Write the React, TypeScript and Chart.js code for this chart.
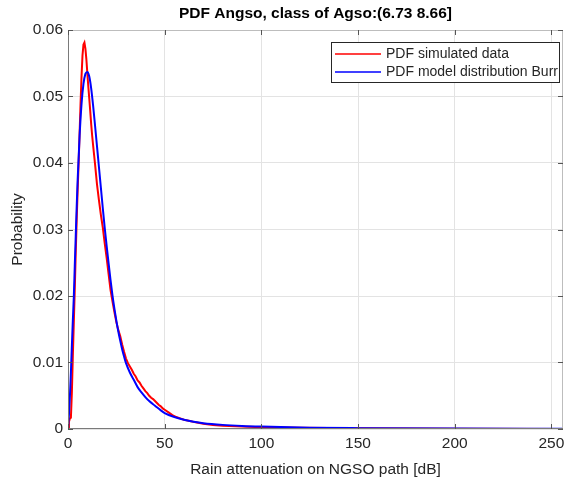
import React, { useEffect, useRef } from "react";
import { Chart, registerables } from "chart.js";

Chart.register(...registerables);

const titleText = "PDF Angso, class of Agso:(6.73 8.66]";
const xLabel = "Rain attenuation on NGSO path [dB]";
const yLabel = "Probability";
const simLabel = "PDF simulated data";
const burrLabel = "PDF model distribution Burr";

const simX = [0, 0.5, 1, 1.5, 2, 2.5, 3, 3.5, 4, 4.5, 5, 5.5, 6, 6.5, 7, 7.5, 8, 8.5, 9, 9.5, 10, 10.5, 11, 11.5, 12, 12.5, 13, 13.5, 14, 15, 16, 17, 18, 19, 20, 21, 22, 23, 24, 25, 26, 27, 28, 29, 30, 31, 32, 33, 34, 35, 36, 37, 38, 39, 40, 41, 42, 43, 44, 45, 46, 47, 48, 49, 50, 52, 54, 56, 58, 60, 63, 66, 70, 75, 80, 90, 100, 120, 150, 200, 256];
const simY = [0, 0.0011, 0.0016, 0.0017, 0.0055, 0.011, 0.016, 0.021, 0.0265, 0.0315, 0.036, 0.04, 0.0445, 0.049, 0.053, 0.0562, 0.0578, 0.0581, 0.0572, 0.0556, 0.0535, 0.0515, 0.0497, 0.0478, 0.0458, 0.0441, 0.0426, 0.0412, 0.0398, 0.0368, 0.0344, 0.0322, 0.0303, 0.0279, 0.0257, 0.0233, 0.0209, 0.0192, 0.0176, 0.0161, 0.0149, 0.014, 0.0127, 0.0116, 0.0106, 0.0099, 0.0094, 0.0089, 0.0083, 0.0079, 0.0073, 0.0070, 0.0065, 0.0061, 0.0057, 0.0054, 0.005, 0.0047, 0.0045, 0.0042, 0.0039, 0.0036, 0.0034, 0.0031, 0.0029, 0.0025, 0.0021, 0.0018, 0.0016, 0.0014, 0.0012, 0.001, 0.0008, 0.0006, 0.00048, 0.00036, 0.00028, 0.00017, 0.0001, 0.00004, 0.00001];

const burrX = [0, 0.5, 1, 1.5, 2, 2.5, 3, 3.5, 4, 4.5, 5, 6, 7, 8, 9, 10, 11, 12, 13, 14, 15, 16, 17, 18, 19, 20, 21, 22, 23, 24, 25, 26, 27, 28, 29, 30, 32, 34, 36, 38, 40, 42, 45, 48, 50, 55, 60, 65, 70, 80, 90, 100, 125, 150, 200, 256];
const burrY = [0, 0.0022, 0.005, 0.0085, 0.0125, 0.0163, 0.0198, 0.0245, 0.029, 0.0335, 0.0375, 0.0441, 0.0489, 0.0519, 0.0534, 0.0537, 0.053, 0.0512, 0.0486, 0.0456, 0.0425, 0.0394, 0.0363, 0.0332, 0.0302, 0.0275, 0.0249, 0.0224, 0.0201, 0.0181, 0.0163, 0.0147, 0.0133, 0.012, 0.0109, 0.0099, 0.0085, 0.0074, 0.0063, 0.0055, 0.0048, 0.0042, 0.0035, 0.0028, 0.0024, 0.0018, 0.0014, 0.0011, 0.00088, 0.00062, 0.00046, 0.00036, 0.0002, 0.00013, 0.00006, 0.00003];

const FONT = "'Liberation Sans', Arial, Helvetica, sans-serif";
const TEXT = "#262626";

const boxPlugin = {
  id: "matlabBox",
  afterDatasetsDraw(chart: any) {
    const { ctx, chartArea: a, scales } = chart;
    ctx.save();
    ctx.lineWidth = 1;
    ctx.strokeStyle = "#bdbdbd";
    ctx.beginPath();
    ctx.moveTo(a.left, a.top + 0.5);
    ctx.lineTo(a.right - 0.5, a.top + 0.5);
    ctx.lineTo(a.right - 0.5, a.bottom);
    ctx.stroke();
    ctx.strokeStyle = "#7a7a7a";
    ctx.beginPath();
    ctx.moveTo(a.left + 0.5, a.top);
    ctx.lineTo(a.left + 0.5, a.bottom - 0.5);
    ctx.lineTo(a.right, a.bottom - 0.5);
    ctx.stroke();
    const len = 5;
    ctx.strokeStyle = "#555555";
    ctx.beginPath();
    scales.x.ticks.forEach((t: any) => {
      const px = Math.round(scales.x.getPixelForValue(t.value)) + 0.5;
      ctx.moveTo(px, a.bottom);
      ctx.lineTo(px, a.bottom - len);
      ctx.moveTo(px, a.top);
      ctx.lineTo(px, a.top + len);
    });
    scales.y.ticks.forEach((t: any) => {
      const py = Math.round(scales.y.getPixelForValue(t.value)) + 0.5;
      ctx.moveTo(a.left, py);
      ctx.lineTo(a.left + len, py);
      ctx.moveTo(a.right, py);
      ctx.lineTo(a.right - len, py);
    });
    ctx.stroke();

    const ds = chart.data.datasets;
    const w = 228;
    const h = 40;
    const left = a.right - 4 - w;
    const top = a.top + 12;
    ctx.fillStyle = "#ffffff";
    ctx.fillRect(left, top, w, h);
    ctx.strokeStyle = "#262626";
    ctx.lineWidth = 1;
    ctx.strokeRect(left + 0.5, top + 0.5, w, h);
    ctx.font = `14px ${FONT}`;
    ctx.textBaseline = "middle";
    ctx.textAlign = "left";
    ds.forEach((d: any, i: number) => {
      const y = top + 12 + i * 18;
      ctx.strokeStyle = d.borderColor;
      ctx.lineWidth = 1.5;
      ctx.beginPath();
      ctx.moveTo(left + 4, y);
      ctx.lineTo(left + 50, y);
      ctx.stroke();
      ctx.fillStyle = TEXT;
      ctx.fillText(d.label, left + 55, y);
    });
    ctx.restore();
  },
};

export default function App() {
  const ref = useRef<HTMLCanvasElement | null>(null);
  useEffect(() => {
    if (!ref.current) return;
    const chart = new Chart(ref.current, {
      type: "line",
      data: {
        datasets: [
          {
            label: simLabel,
            data: simX.map((x, i) => ({ x, y: simY[i] })),
            borderColor: "#ff0000",
            borderWidth: 2,
            pointRadius: 0,
            tension: 0,
            order: 2,
          },
          {
            label: burrLabel,
            data: burrX.map((x, i) => ({ x, y: burrY[i] })),
            borderColor: "#0000ff",
            borderWidth: 2,
            pointRadius: 0,
            cubicInterpolationMode: "monotone",
            order: 1,
          },
        ],
      },
      options: {
        animation: false,
        responsive: false,
        layout: { padding: { left: 0, right: 14, top: 0, bottom: 0 } },
        plugins: {
          legend: { display: false },
          tooltip: { enabled: false },
          title: {
            display: true,
            fullSize: false,
            text: titleText,
            color: "#000000",
            font: { family: FONT, size: 15.5, weight: "bold" },
            padding: { top: 4, bottom: 7.4 },
          },
        },
        scales: {
          x: {
            type: "linear",
            min: 0,
            max: 256,
            afterFit(scale: any) {
              scale.height = 52;
            },
            ticks: {
              stepSize: 50,
              includeBounds: false,
              color: TEXT,
              font: { family: FONT, size: 15.5 },
              padding: 5,
              maxRotation: 0,
            },
            grid: { color: "#e3e3e3", drawTicks: false },
            border: { display: false },
            title: {
              display: true,
              text: xLabel,
              color: TEXT,
              font: { family: FONT, size: 15.5 },
              padding: { top: 0, bottom: 2 },
            },
          },
          y: {
            type: "linear",
            min: 0,
            max: 0.06,
            afterFit(scale: any) {
              scale.width = 68;
            },
            ticks: {
              stepSize: 0.01,
              includeBounds: false,
              color: TEXT,
              font: { family: FONT, size: 15.5 },
              padding: 5,
              callback: (v: any) => (v === 0 ? "0" : Number(v).toFixed(2)),
            },
            grid: { color: "#e3e3e3", drawTicks: false },
            border: { display: false },
            title: {
              display: true,
              text: yLabel,
              color: TEXT,
              font: { family: FONT, size: 15.5 },
              padding: { top: 8, bottom: 0 },
            },
          },
        },
      },
      plugins: [boxPlugin],
    });
    return () => chart.destroy();
  }, []);
  return (
    <div style={{ position: "fixed", left: 0, top: 0, width: 577, height: 481, background: "#ffffff" }}>
      <canvas ref={ref} width={577} height={481} />
    </div>
  );
}
